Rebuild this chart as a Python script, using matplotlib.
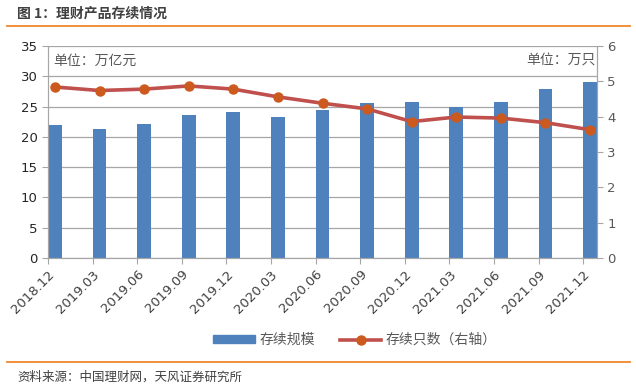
import matplotlib.pyplot as plt
import matplotlib.transforms as mtransforms
import numpy as np
from matplotlib.lines import Line2D
from matplotlib.patches import Patch

plt.rcParams["font.family"] = ["Noto Sans CJK SC", "DejaVu Sans"]

periods = ["2018.12", "2019.03", "2019.06", "2019.09", "2019.12", "2020.03", "2020.06",
           "2020.09", "2020.12", "2021.03", "2021.06", "2021.09", "2021.12"]
scale_trn = [22.0, 21.3, 22.1, 23.6, 24.1, 23.3, 24.4, 25.6, 25.8, 25.0, 25.8, 27.9, 29.0]
count_10k = [4.84, 4.74, 4.78, 4.87, 4.78, 4.56, 4.38, 4.22, 3.86, 3.99, 3.96, 3.83, 3.63]

bar_blue = "#4F81BD"
line_red = "#C0504D"
marker_orange = "#CC5A1E"
grid_gray = "#A6A6A6"
text_gray = "#404040"
orange = "#F0882A"

fig = plt.figure(figsize=(6.36, 3.87), dpi=100)
ax = fig.add_axes([48 / 636, 1 - 258 / 387, (597 - 48) / 636, (258 - 46) / 387])
ax2 = ax.twinx()

x = np.arange(len(periods))
w = 0.31
ax.bar(x + w / 2, scale_trn, width=w, color=bar_blue, zorder=2)
ax2.plot(x + w / 2, count_10k, color=line_red, lw=2.6, marker="o", ms=6.5,
         mfc=marker_orange, mec=marker_orange, zorder=3)

ax.set_xlim(0, len(periods) - 1 + w)
ax.set_ylim(0, 35)
ax.set_yticks(range(0, 36, 5))
ax2.set_ylim(0, 6)
ax2.set_yticks(range(0, 7))

ax.grid(axis="y", color=grid_gray, lw=0.9, zorder=0)
ax.set_axisbelow(True)
for a in (ax, ax2):
    for s in a.spines.values():
        s.set_color(grid_gray)
    a.spines["top"].set_visible(False)

ax.set_xticks(x)
ax.set_xticklabels(periods, rotation=45, ha="right", rotation_mode="anchor",
                   fontsize=9.5, color=text_gray, family=["DejaVu Sans"])
shift = mtransforms.ScaledTranslation(7 / 72, -3 / 72, fig.dpi_scale_trans)
for lab in ax.get_xticklabels():
    lab.set_transform(lab.get_transform() + shift)
ax.tick_params(axis="x", length=4, color=grid_gray, pad=3)
ax.tick_params(axis="y", length=4, color=grid_gray, labelsize=9.5, labelcolor="#262626")
ax2.tick_params(axis="y", length=4, color=grid_gray, labelsize=9.5, labelcolor="#595959")
for lab in ax.get_yticklabels() + ax2.get_yticklabels():
    lab.set_family(["DejaVu Sans"])

ax.text(0.01, 0.965, "单位：万亿元", transform=ax.transAxes, ha="left", va="top",
        fontsize=10, color="#595959")
ax.text(0.997, 0.965, "单位：万只", transform=ax.transAxes, ha="right", va="top",
        fontsize=10, color="#595959")

handles = [Patch(color=bar_blue),
           Line2D([], [], color=line_red, lw=2.6, marker="o", ms=6.5,
                  mfc=marker_orange, mec=marker_orange)]
fig.legend(handles, ["存续规模", "存续只数（右轴）"], loc="center",
           bbox_to_anchor=(355 / 636, 1 - 340 / 387), ncol=2, frameon=False,
           fontsize=10, labelcolor="#595959", handlelength=3.0, handleheight=0.5,
           columnspacing=1.8, handletextpad=0.3)

fig.text(17 / 636, 1 - 14 / 387, "图 1：理财产品存续情况", ha="left", va="center",
         fontsize=10, fontweight="bold", color=text_gray)
fig.add_artist(Line2D([7 / 636, 630 / 636], [1 - 26 / 387] * 2, color=orange, lw=1.3))
fig.add_artist(Line2D([7 / 636, 630 / 636], [1 - 362 / 387] * 2, color=orange, lw=1.3))
fig.text(17 / 636, 1 - 377 / 387, "资料来源：中国理财网，天风证券研究所", ha="left", va="center",
         fontsize=9, color=text_gray)

fig.savefig("out.png", dpi=100)
